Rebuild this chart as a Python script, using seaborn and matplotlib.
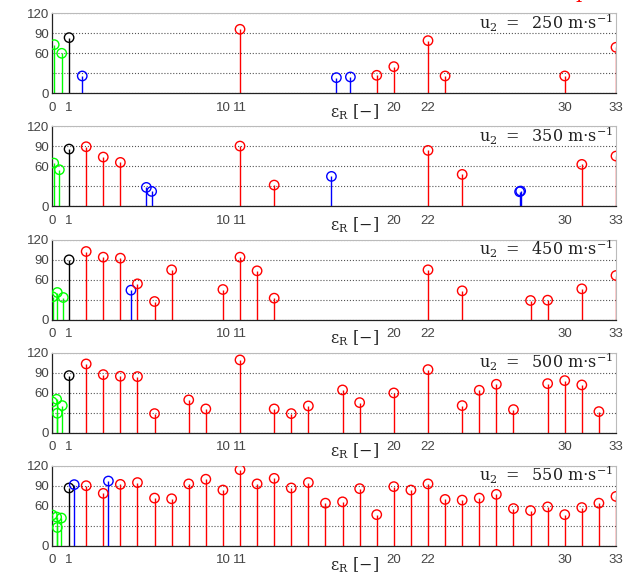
import matplotlib
matplotlib.use("Agg")
import matplotlib.pyplot as plt
import seaborn as sns
import pandas as pd

# Flow speeds of the five cases (one panel each)
u2 = [250, 350, 450, 500, 550]

# Amplitude spectra: ratio eps_R, amplitude, and mode family (g/k/b/r)
eps_250 = [0.13, 0.57, 1, 1.77, 11, 16.64, 17.46, 19, 20, 22, 23, 30, 33]
amp_250 = [73, 60, 83.5, 26, 96, 23.5, 24.5, 27, 40, 79, 26, 26, 69]
kind_250 = ["g", "g", "k", "b", "r", "b", "b", "r", "r", "r", "r", "r", "r"]

eps_350 = [0.1, 0.43, 1, 2, 3, 4, 5.52, 5.83, 11, 13, 16.35, 22, 24, 27.36, 27.42, 31, 33]
amp_350 = [65, 55, 86, 89.5, 74, 66, 28.5, 22.5, 90.5, 32, 45, 84, 48, 22, 23, 63, 75.5]
kind_350 = ["g", "g", "k", "r", "r", "r", "b", "b", "r", "r", "b", "r", "r", "b", "b", "r", "r"]

eps_450 = [0.04, 0.31, 0.66, 1, 2, 3, 4, 4.62, 5, 6, 7, 10, 11, 12, 13, 22, 24, 28, 29, 31, 33]
amp_450 = [34, 40.5, 33, 89.5, 102, 93.5, 92, 44, 53.5, 27, 74.5, 45, 93.5, 73, 32, 74.5, 43,
           28.5, 29, 46, 66]
kind_450 = ["g", "g", "g", "k", "r", "r", "r", "b"] + ["r"] * 13

eps_500 = [0.02, 0.27, 0.31, 0.6, 1, 2, 3, 4, 5, 6, 8, 9, 11, 13, 14, 15, 17, 18, 20, 22,
           24, 25, 26, 27, 29, 30, 31, 32]
amp_500 = [46, 50, 29, 40.5, 85.5, 103, 87, 84.5, 84, 28.5, 49, 35.5, 109, 35.5, 28.5, 40,
           64, 45, 59.5, 94.5, 40.5, 63.5, 72.5, 34.5, 73.5, 78, 71.5, 31.5]
kind_500 = ["g", "g", "g", "g", "k"] + ["r"] * 23

eps_550 = [0.02, 0.27, 0.31, 0.55, 1, 1.3, 2, 3, 3.3, 4, 5, 6, 7, 8, 9, 10, 11, 12, 13, 14,
           15, 16, 17, 18, 19, 20, 21, 22, 23, 24, 25, 26, 27, 28, 29, 30, 31, 32, 33]
amp_550 = [46, 43, 27.3, 41.5, 86.6, 91.6, 90, 78.5, 97, 92, 94.7, 71.4, 70.4, 92.7, 99.7,
           83.5, 114, 92.7, 101, 86.6, 94.7, 63.8, 65.8, 85.6, 46.6, 88.6, 83.5, 92.7, 69.4,
           68.4, 71.4, 77, 55.7, 52.7, 58.2, 46.6, 57.2, 63.8, 73.9]
kind_550 = ["g", "g", "g", "g", "k", "b", "r", "r", "b"] + ["r"] * 30

x_ticks = [0, 1, 10, 11, 20, 22, 30, 33]
y_ticks = [0, 30, 60, 90, 120]
y_tick_labels = ["0", "", "60", "90", "120"]

palette = {"g": "#00ff00", "k": "#000000", "b": "#0000ff", "r": "#ff0000"}

panels = [
    (eps_250, amp_250, kind_250),
    (eps_350, amp_350, kind_350),
    (eps_450, amp_450, kind_450),
    (eps_500, amp_500, kind_500),
    (eps_550, amp_550, kind_550),
]

sns.set_theme(style="white")
plt.rcParams["font.family"] = ["Liberation Sans", "DejaVu Sans"]
plt.rcParams["mathtext.fontset"] = "dejavuserif"

W, H = 638, 584
fig = plt.figure(figsize=(W / 100, H / 100), dpi=100)

left_px, right_px = 52, 616
for k, ((eps, amp, kind), speed) in enumerate(zip(panels, u2)):
    bottom_px = 93.3 + 113.1 * k
    height_px = 80
    ax = fig.add_axes([left_px / W, 1 - bottom_px / H, (right_px - left_px) / W, height_px / H])

    df = pd.DataFrame({"eps": eps, "amp": amp, "kind": kind})

    # stems from the baseline up to each value
    ax.vlines(df["eps"], 0, df["amp"], colors=[palette[c] for c in df["kind"]],
              lw=1.0, zorder=2)
    sns.scatterplot(data=df, x="eps", y="amp", hue="kind", palette=palette, s=46,
                    linewidth=1.0, legend=False, ax=ax, zorder=3)
    pts = ax.collections[-1]
    fc = pts.get_facecolors()
    pts.set_edgecolors(fc)
    pts.set_facecolors("none")

    ax.set_xlim(0, 33)
    ax.set_ylim(0, 120)
    ax.set_xticks(x_ticks)
    ax.set_xticklabels([str(t) for t in x_ticks])
    ax.set_yticks(y_ticks)
    ax.set_yticklabels(y_tick_labels)
    ax.tick_params(axis="both", direction="in", length=3, width=0.8, color="#333333",
                   labelsize=9.5, labelcolor="#444444")
    ax.tick_params(axis="x", pad=6)
    ax.tick_params(axis="y", pad=2)

    ax.yaxis.grid(True, linestyle=":", color="#555555", lw=0.8)
    ax.xaxis.grid(False)
    ax.set_axisbelow(True)

    for side in ("left", "bottom"):
        ax.spines[side].set_color("#222222")
        ax.spines[side].set_linewidth(0.9)
    for side in ("top", "right"):
        ax.spines[side].set_color("#bbbbbb")
        ax.spines[side].set_linewidth(0.8)

    ax.set_ylabel("")
    ax.set_xlabel(r"$\mathrm{\varepsilon_R\ [-]}$", fontsize=11.5, color="#222222")
    ax.xaxis.set_label_coords(0.537, -0.115)
    ax.xaxis.label.set_va("top")

    ax.text(0.996, 0.80,
            r"$\mathrm{u_2\ =\ \ %d\ m{\cdot}s^{-1}}$" % speed,
            transform=ax.transAxes, ha="right", va="baseline", fontsize=11.5,
            color="#222222")

# tail of red heading text at the top edge
fig.text(582 / W, 1 + 1.5 / H, "p", color="red", fontsize=14, family="DejaVu Serif",
         ha="center", va="baseline")

fig.savefig("out.png", dpi=100)
